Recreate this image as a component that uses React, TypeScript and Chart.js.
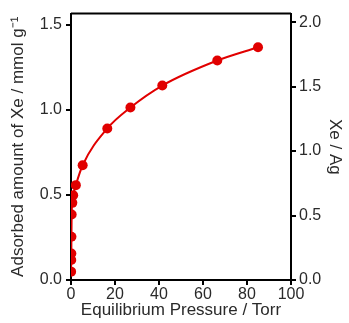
import React, { useEffect, useRef } from "react";
import { Chart, registerables } from "chart.js";

Chart.register(...registerables);

const pressureTorr = [0.05, 0.1, 0.15, 0.2, 0.3, 0.6, 1.0, 2.2, 5.3, 16.5, 27, 41.5, 66.5, 85];
const adsorbedXe = [0.049, 0.117, 0.156, 0.254, 0.385, 0.453, 0.498, 0.557, 0.674, 0.89, 1.013, 1.142, 1.289, 1.367];

const xTicks = [0, 20, 40, 60, 80, 100];
const yTicks = [0, 0.5, 1.0, 1.5];
const y2Ticks = [0, 0.5, 1.0, 1.5, 2.0];

const FONT = "'Liberation Sans', Arial, sans-serif";
const RED = "#e10000";
const TEXT = "#2a2a2a";

const framePlugin = {
  id: "frameTop",
  afterDraw(chart: any) {
    const { ctx, chartArea } = chart;
    ctx.save();
    ctx.strokeStyle = "#000";
    ctx.lineWidth = 2;
    ctx.beginPath();
    ctx.moveTo(chartArea.left, chartArea.top);
    ctx.lineTo(chartArea.right, chartArea.top);
    ctx.stroke();
    ctx.restore();
  },
};

export default function App() {
  const ref = useRef<HTMLCanvasElement | null>(null);

  useEffect(() => {
    if (!ref.current) return;
    const tickFont = { family: FONT, size: 16 };
    const titleFont = { family: FONT, size: 17 };
    const grid = {
      drawOnChartArea: false,
      drawTicks: true,
      tickLength: 5,
      tickWidth: 2,
      color: "#000",
      lineWidth: 2,
    };
    const border = { display: true, color: "#000", width: 2 };
    const chart = new Chart(ref.current, {
      type: "scatter",
      data: {
        datasets: [
          {
            data: pressureTorr.map((p, i) => ({ x: p, y: adsorbedXe[i] })),
            showLine: true,
            cubicInterpolationMode: "monotone",
            borderColor: RED,
            borderWidth: 2,
            backgroundColor: RED,
            pointRadius: 5,
            pointBorderWidth: 0,
            pointBackgroundColor: RED,
            yAxisID: "y",
          },
        ],
      },
      options: {
        animation: false,
        responsive: false,
        layout: { padding: { top: 13, left: 0, right: 0, bottom: 0 } },
        plugins: { legend: { display: false }, tooltip: { enabled: false } },
        scales: {
          x: {
            type: "linear",
            min: 0,
            max: 100,
            afterBuildTicks: (s: any) => {
              s.ticks = xTicks.map((v) => ({ value: v }));
            },
            afterFit: (s: any) => {
              s.height = 43;
            },
            ticks: { font: tickFont, color: TEXT, padding: 0, maxRotation: 0 },
            grid,
            border,
            title: {
              display: true,
              text: "Equilibrium Pressure / Torr",
              font: titleFont,
              color: TEXT,
              padding: { top: 0, bottom: 2 },
            },
          },
          y: {
            type: "linear",
            position: "left",
            min: 0,
            max: 1.5645,
            afterBuildTicks: (s: any) => {
              s.ticks = yTicks.map((v) => ({ value: v }));
            },
            afterFit: (s: any) => {
              s.width = 71;
            },
            ticks: {
              font: tickFont,
              color: TEXT,
              padding: 4,
              callback: (v: any) => Number(v).toFixed(1),
            },
            grid,
            border,
            title: {
              display: true,
              text: "Adsorbed amount of Xe / mmol g\u207B\u00B9",
              font: titleFont,
              color: TEXT,
              padding: { top: 8, bottom: 0 },
            },
          },
          y2: {
            type: "linear",
            position: "right",
            min: 0,
            max: 2.066,
            afterBuildTicks: (s: any) => {
              s.ticks = y2Ticks.map((v) => ({ value: v }));
            },
            afterFit: (s: any) => {
              s.width = 58;
            },
            ticks: {
              font: tickFont,
              color: TEXT,
              padding: 3,
              callback: (v: any) => Number(v).toFixed(1),
            },
            grid,
            border,
            title: {
              display: true,
              text: "Xe / Ag",
              font: titleFont,
              color: TEXT,
              padding: { top: 4, bottom: 0 },
            },
          },
        },
      },
      plugins: [framePlugin],
    } as any);
    return () => chart.destroy();
  }, []);

  return (
    <canvas
      ref={ref}
      width={349}
      height={323}
      style={{ position: "fixed", left: 0, top: 0, width: 349, height: 323, display: "block", background: "#fff" }}
    />
  );
}
